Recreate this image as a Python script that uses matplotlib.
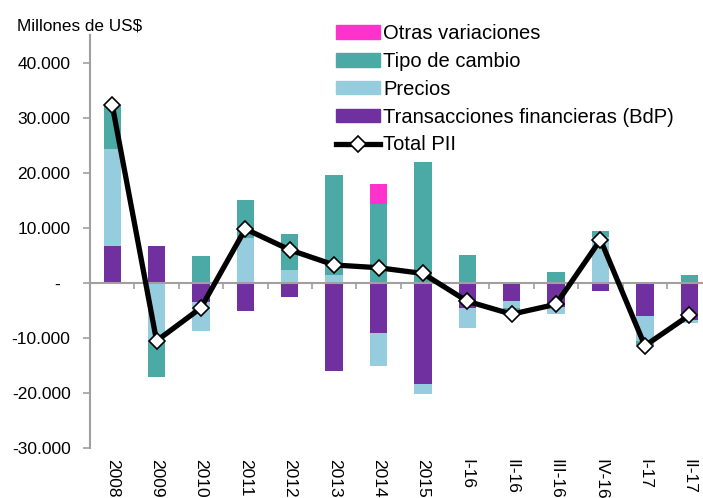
import numpy as np
import matplotlib.pyplot as plt
from matplotlib.lines import Line2D
from matplotlib.patches import Patch

plt.rcParams['font.family'] = ['Liberation Sans', 'DejaVu Sans']

periodos = ["2008", "2009", "2010", "2011", "2012", "2013", "2014", "2015",
            "I-16", "II-16", "III-16", "IV-16", "I-17", "II-17"]

# millones de US$
transacciones = [6650, 6700, -3550, -5200, -2700, -16150, -9250, -18400,
                 -4550, -3400, -4500, -1450, -6050, -6800]
precios = [17700, -10550, -5350, 8100, 2350, 1400, -5950, -1800,
           -3750, -1150, -1250, 8300, -4600, -600]
tipo_cambio = [7900, -6550, 4800, 6950, 6500, 18150, 14250, 21950,
               5050, -350, 1950, 1150, -700, 1350]
otras = [0, 0, 0, 0, 0, 0, 3750, 0, 0, 0, 0, 0, 0, 0]
total_pii = [32350, -10600, -4600, 9750, 5950, 3200, 2700, 1650,
             -3400, -5750, -3950, 7800, -11500, -5950]

series = [
    ("Transacciones financieras (BdP)", transacciones, "#7030A0"),
    ("Precios", precios, "#96CDDE"),
    ("Tipo de cambio", tipo_cambio, "#4BAAA5"),
    ("Otras variaciones", otras, "#FF33CC"),
]

fig = plt.figure(figsize=(7.03, 4.98), dpi=100)
ax = fig.add_axes([0.128, 0.1014, 0.884, 0.828])

x = np.arange(len(periodos))
pos_base = np.zeros(len(x))
neg_base = np.zeros(len(x))
for nombre, vals, color in series:
    v = np.array(vals, dtype=float)
    base = np.where(v >= 0, pos_base, neg_base)
    ax.bar(x, v, 0.39, bottom=base, color=color, linewidth=0, zorder=2)
    pos_base += np.where(v >= 0, v, 0)
    neg_base += np.where(v < 0, v, 0)

ax.plot(x, total_pii, color="black", lw=3.8, marker="D", markersize=8.5,
        markerfacecolor="white", markeredgecolor="black", markeredgewidth=1.2,
        zorder=4)

gris = "#A0A0A0"
yticks = np.arange(-30000, 40001, 10000)
ax.set_xlim(-0.5, len(x) - 0.5)
ax.set_ylim(-30000, 45000)
ax.set_yticks(yticks)
ax.set_yticklabels([f"{v:,}".replace(",", ".") if v != 0 else "-  "
                    for v in yticks])
ax.tick_params(axis="y", colors=gris, labelcolor="black", labelsize=12.5,
               length=5, width=1.2, pad=9)

for s in ["top", "right"]:
    ax.spines[s].set_visible(False)
ax.spines["left"].set_color(gris)
ax.spines["left"].set_linewidth(1.5)
ax.spines["bottom"].set_position(("data", 0))
ax.spines["bottom"].set_color(gris)
ax.spines["bottom"].set_linewidth(1.5)
ax.spines["bottom"].set_zorder(3)
ax.set_xticks(x[:-1] + 0.5)
ax.set_xticklabels([])
ax.tick_params(axis="x", colors=gris, length=4, width=1.2)

sec = ax.secondary_xaxis("bottom")
sec.spines["bottom"].set_visible(False)
sec.set_xticks(x)
sec.set_xticklabels(periodos, rotation=270, fontsize=12.5)
sec.tick_params(length=0, pad=8)

handles = [Patch(color="#FF33CC"), Patch(color="#4BAAA5"),
           Patch(color="#96CDDE"), Patch(color="#7030A0"),
           Line2D([], [], color="black", lw=3.8, marker="D", markersize=8.5,
                  markerfacecolor="white", markeredgecolor="black",
                  markeredgewidth=1.2)]
labels = ["Otras variaciones", "Tipo de cambio", "Precios",
          "Transacciones financieras (BdP)", "Total PII"]
fig.legend(handles, labels, loc="upper left", bbox_to_anchor=(0.466, 0.968),
           frameon=False, fontsize=14.5, handlelength=2.2, handleheight=0.65,
           handletextpad=0.15, labelspacing=0.44, borderaxespad=0)

fig.text(0.024, 0.948, "Millones de US$", fontsize=12.3, va="center",
         ha="left")

fig.savefig("out.png", dpi=100)
